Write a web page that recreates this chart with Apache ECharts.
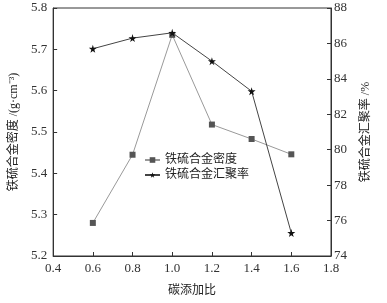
<!DOCTYPE html>
<html>
<head>
<meta charset="utf-8">
<script src="https://cdn.jsdelivr.net/npm/echarts@6/dist/echarts.min.js"></script>
<style>
  html, body { margin: 0; padding: 0; background: #fff; }
</style>
</head>
<body>
<div id="myChart1" style="width: 387px; height: 303px;"></div>
<script>
// 碳添加比
var ratios = [0.6, 0.8, 1.0, 1.2, 1.4, 1.6];
// 铁硫合金密度 g/cm3
var density = [5.28, 5.445, 5.735, 5.518, 5.483, 5.446];
// 铁硫合金汇聚率 %
var recovery = [85.7, 86.3, 86.6, 85.0, 83.3, 75.3];

var font = "'Liberation Serif', 'Noto Sans CJK SC', serif";

var myChart = echarts.init(document.getElementById("myChart1"));
var option = {
  animation: false,
  textStyle: { fontFamily: font },
  grid: {
    left: 52,
    right: 56,
    top: 8,
    bottom: 47,
    show: true,
    borderColor: "#333",
    borderWidth: 1,
  },
  legend: {
    left: 139,
    top: 149,
    orient: "vertical",
    itemWidth: 15,
    itemHeight: 7,
    itemGap: 3,
    textStyle: { fontFamily: font, fontSize: 12, color: "#222" },
    data: ["铁硫合金密度", "铁硫合金汇聚率"],
  },
  xAxis: {
    type: "value",
    min: 0.4,
    max: 1.8,
    interval: 0.2,
    name: "碳添加比",
    nameLocation: "middle",
    nameGap: 29,
    nameTextStyle: { fontFamily: font, fontSize: 12, color: "#222" },
    axisLine: { lineStyle: { color: "#333" } },
    axisTick: { inside: true, length: 4, lineStyle: { color: "#333" } },
    axisLabel: {
      color: "#333",
      fontSize: 13,
      margin: 6,
      formatter: function (v) { return v.toFixed(1); },
    },
    splitLine: { show: false },
  },
  yAxis: [
    {
      type: "value",
      min: 5.2,
      max: 5.8,
      interval: 0.1,
      name: "铁硫合金密度 /(g·cm⁻³)",
      nameLocation: "middle",
      nameRotate: 90,
      nameGap: 32,
      nameTextStyle: { fontFamily: font, fontSize: 12, color: "#222" },
      axisLine: { show: true, lineStyle: { color: "#333" } },
      axisTick: { show: true, inside: true, length: 4, lineStyle: { color: "#333" } },
      axisLabel: {
        color: "#333",
        fontSize: 13,
        margin: 6,
        formatter: function (v) { return v.toFixed(1); },
      },
      splitLine: { show: false },
    },
    {
      type: "value",
      min: 74,
      max: 88,
      interval: 2,
      position: "right",
      name: "铁硫合金汇聚率 /%",
      nameLocation: "middle",
      nameRotate: 90,
      nameGap: 29,
      nameTextStyle: { fontFamily: font, fontSize: 12, color: "#222" },
      axisLine: { show: true, lineStyle: { color: "#333" } },
      axisTick: { show: true, inside: true, length: 4, lineStyle: { color: "#333" } },
      axisLabel: { color: "#333", fontSize: 13, margin: 3 },
      splitLine: { show: false },
    },
  ],
  series: [
    {
      name: "铁硫合金密度",
      type: "line",
      yAxisIndex: 0,
      data: ratios.map(function (r, i) { return [r, density[i]]; }),
      symbol: "rect",
      symbolSize: 6,
      lineStyle: { color: "#999", width: 1 },
      itemStyle: { color: "#555" },
    },
    {
      name: "铁硫合金汇聚率",
      type: "line",
      yAxisIndex: 1,
      data: ratios.map(function (r, i) { return [r, recovery[i]]; }),
      symbol: "path://M50,0 L61,35 L98,35 L68,57 L79,91 L50,70 L21,91 L32,57 L2,35 L39,35 Z",
      symbolSize: 8,
      lineStyle: { color: "#444", width: 1 },
      itemStyle: { color: "#111" },
    },
  ],
};
myChart.setOption(option);
</script>
</body>
</html>
